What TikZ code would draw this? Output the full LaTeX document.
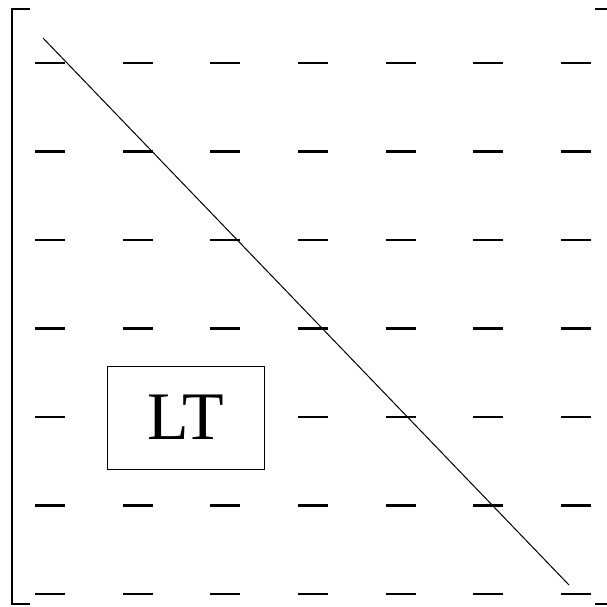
\documentclass[tikz,border=0pt]{standalone}
\usepackage{fontspec}
\setmainfont{Liberation Serif}
\begin{document}
\begin{tikzpicture}[x=1pt,y=-1pt,
  dashmark/.style={line width=2.6pt},
  bracketline/.style={line width=2.4pt},
  ltbox/.style={draw,fill=white,line width=1pt,minimum width=157pt,minimum height=103pt,inner sep=0pt,
    font=\fontsize{68}{80}\selectfont}]
\useasboundingbox (0,0) rectangle (607,606);
% brackets
\draw[bracketline] (30,9) -- (12,9) -- (12,604) -- (30,604);
\draw[bracketline] (595,9) -- (613,9) -- (613,604) -- (595,604);
% dash grid
\foreach \i in {0,...,6}{
  \foreach \j in {0,...,6}{
    \draw[dashmark] ({35+87.67*\i},{63+88.5*\j}) -- ++(30,0);
  }
}
% diagonal
\coordinate (ds) at (43,38);
\coordinate (de) at (569,585);
\draw[line width=1pt] (ds) -- (de);
% LT box
\node[ltbox] (lt) at (185.5,417.5) {LT};
\end{tikzpicture}
\end{document}
